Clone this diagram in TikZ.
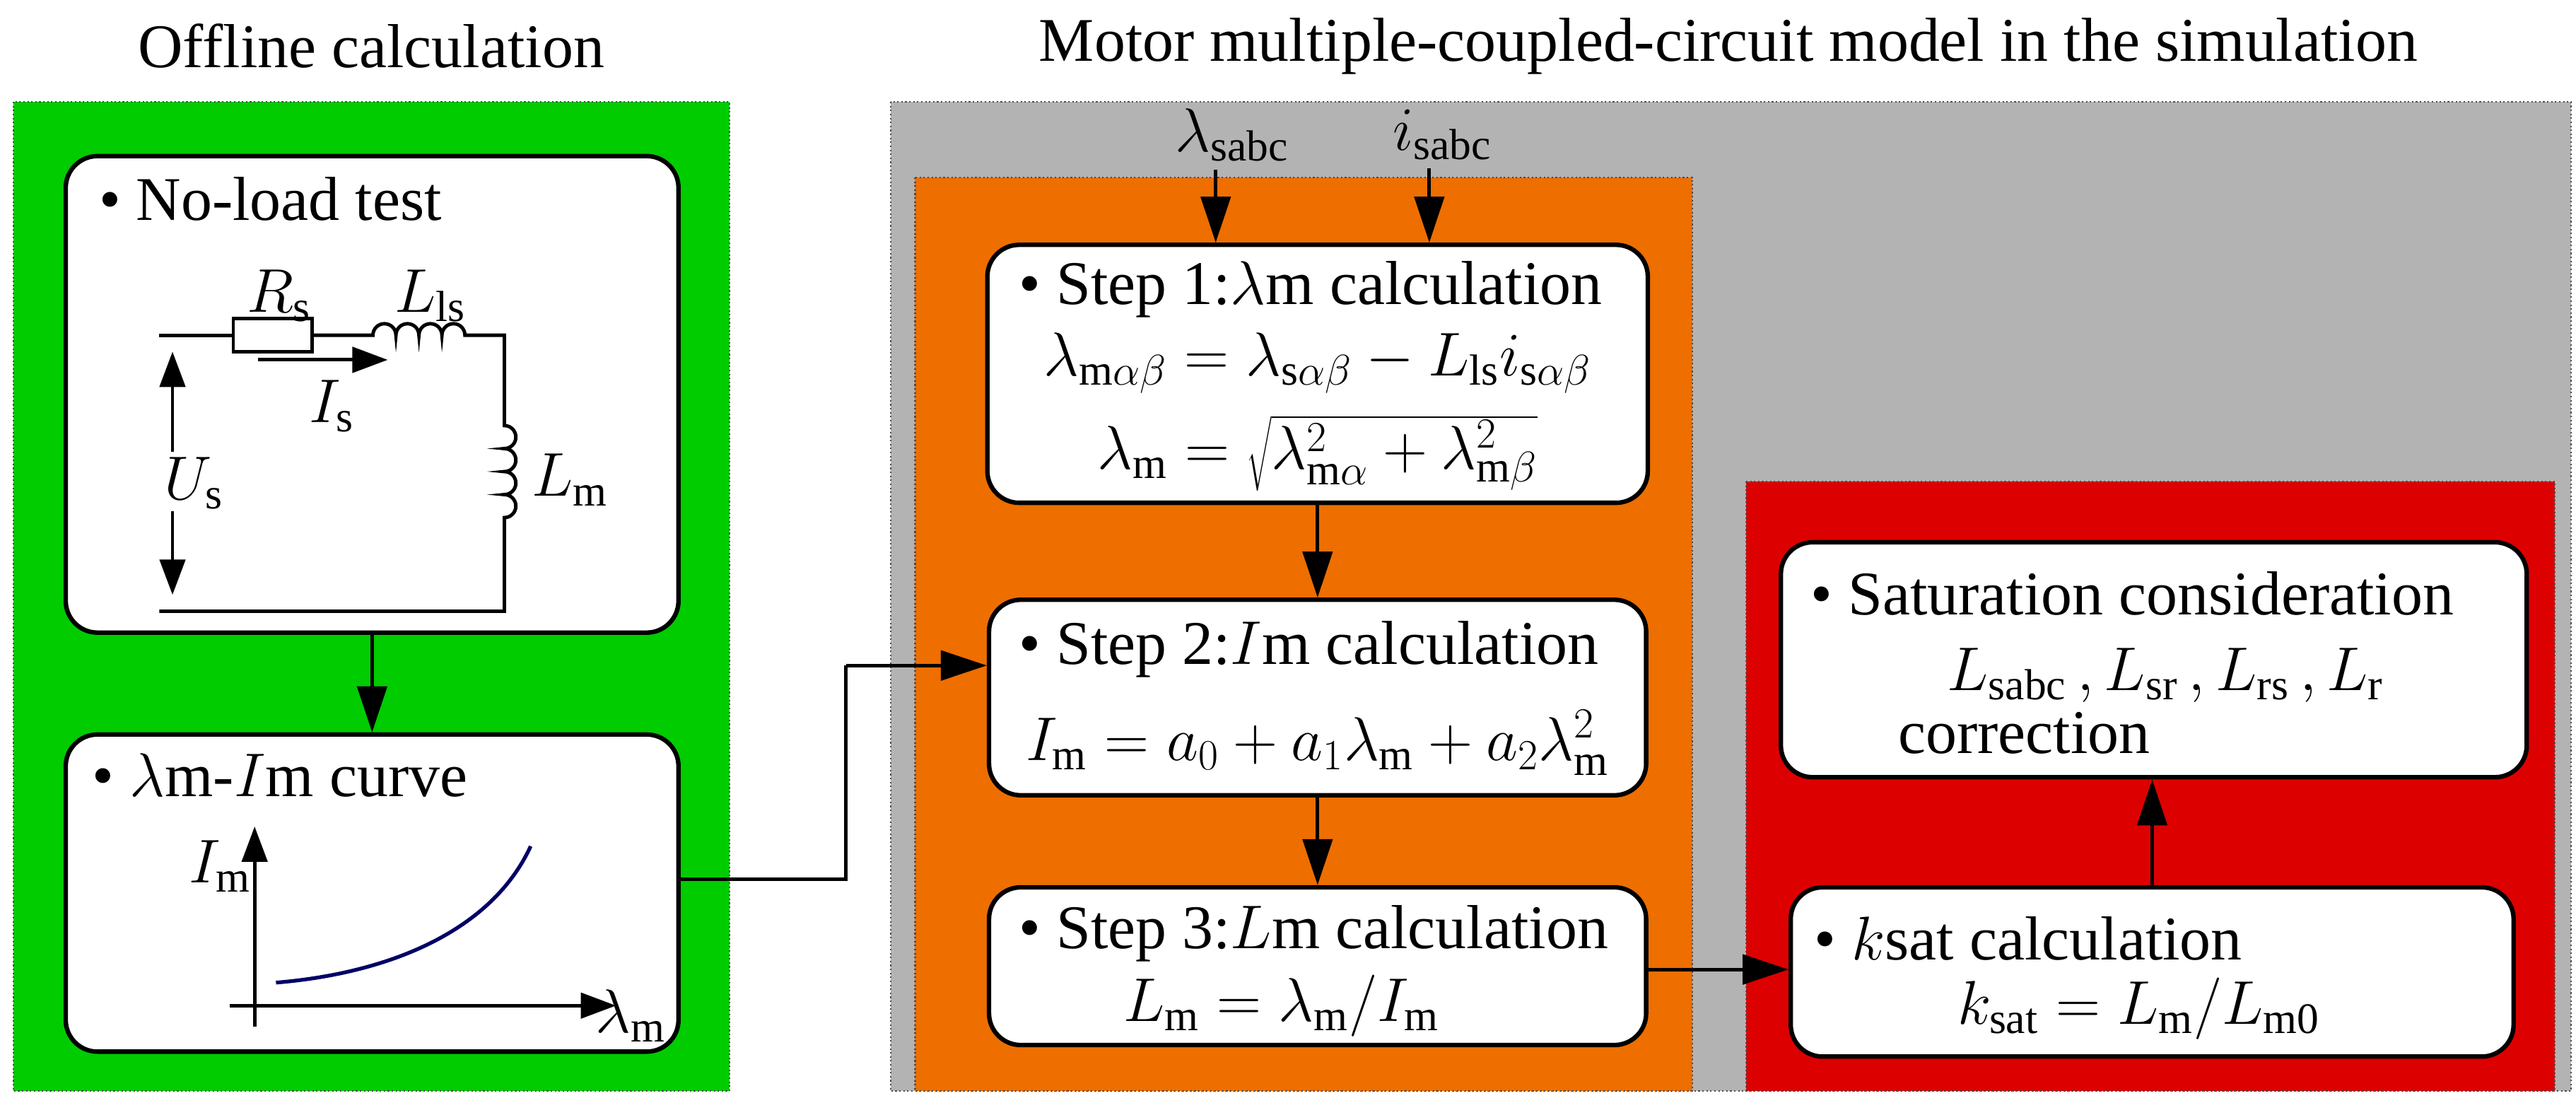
\documentclass[tikz,border=0pt]{standalone}
\usepackage{fontspec}
\setmainfont{Liberation Serif}
\usetikzlibrary{arrows.meta}
\definecolor{gr}{HTML}{00CC00}
\definecolor{gy}{HTML}{B3B3B3}
\definecolor{orn}{HTML}{EE6E00}
\definecolor{rd}{HTML}{DD0000}
\definecolor{nv}{HTML}{000066}
\begin{document}
\begin{tikzpicture}[x=0.02324cm,y=-0.02324cm,
  font=\fontsize{25}{29}\selectfont,
  bg/.style={draw=black!70,densely dotted,line width=0.6pt},
  box/.style={draw,fill=white,line width=1.8pt,rounded corners=0.45cm,inner sep=0pt},
  arr/.style={line width=1.4pt,-{Triangle[length=0.65cm,width=0.42cm]}},
  wire/.style={line width=1.4pt},
  txt/.style={anchor=west,inner sep=0pt}]
\useasboundingbox (0,0) rectangle (1568,671);
% backgrounds
\fill[white] (0,0) rectangle (1568,671);
\draw[bg,fill=gr] (8,62) rectangle (444,664);
\draw[bg,fill=gy] (542,62) rectangle (1565,664);
\draw[bg,fill=orn] (557,108) rectangle (1030,664);
\draw[bg,fill=rd] (1063,293) rectangle (1555,664);
% titles
\node (t1) at (226,28) {Offline calculation};
\node (t2) at (1052,28) {Motor multiple-coupled-circuit model in the simulation};
% boxes
\node[box,minimum width={373*0.02324cm},minimum height={290*0.02324cm}] (nl) at (226.5,240) {};
\node[box,minimum width={373*0.02324cm},minimum height={193*0.02324cm}] (cv) at (226.5,543.5) {};
\node[box,minimum width={402*0.02324cm},minimum height={157*0.02324cm}] (s1) at (802,227.5) {};
\node[box,minimum width={400*0.02324cm},minimum height={119*0.02324cm}] (s2) at (802,424.5) {};
\node[box,minimum width={400*0.02324cm},minimum height={96*0.02324cm}] (s3) at (802,588) {};
\node[box,minimum width={454*0.02324cm},minimum height={143*0.02324cm}] (sat) at (1311,401.5) {};
\node[box,minimum width={440*0.02324cm},minimum height={103*0.02324cm}] (ks) at (1310,591.5) {};
% texts
\node[txt] (nlt) at (60,121) {\textbullet\ No-load test};
\node[txt] (cvt) at (56,472) {\textbullet\ $\lambda$m-$I$m curve};
\node[txt] (s1t) at (620,176) {\textbullet\ Step 1:$\lambda$m calculation};
\node (s1a) at (802,221) {$\lambda_{\mathrm{m}\alpha\beta}=\lambda_{\mathrm{s}\alpha\beta}-L_{\mathrm{ls}}i_{\mathrm{s}\alpha\beta}$};
\node (s1b) at (802,276) {$\lambda_{\mathrm{m}}=\sqrt{\lambda_{\mathrm{m}\alpha}^2+\lambda_{\mathrm{m}\beta}^2}$};
\node[txt] (s2t) at (620,395) {\textbullet\ Step 2:$I$m calculation};
\node (s2a) at (802,452) {$I_{\mathrm{m}}=a_0+a_1\lambda_{\mathrm{m}}+a_2\lambda_{\mathrm{m}}^2$};
\node[txt] (s3t) at (620,568) {\textbullet\ Step 3:$L$m calculation};
\node (s3a) at (780,612) {$L_{\mathrm{m}}=\lambda_{\mathrm{m}}/I_{\mathrm{m}}$};
\node[txt] (satt) at (1102,361) {\textbullet\ Saturation consideration};
\node[txt] (sata) at (1185,411) {$L_{\mathrm{sabc}}\,,L_{\mathrm{sr}}\,,L_{\mathrm{rs}}\,,L_{\mathrm{r}}$};
\node (satb) at (1232,446) {correction};
\node[txt] (kst) at (1104,571) {\textbullet\ $k$sat calculation};
\node (ksa) at (1302,614) {$k_{\mathrm{sat}}=L_{\mathrm{m}}/L_{\mathrm{m0}}$};
% input labels
\node (ls) at (750,82) {$\lambda_{\mathrm{sabc}}$};
\node (is) at (878,82) {$i_{\mathrm{sabc}}$};
\coordinate (lsa) at (740,103);
\coordinate (isa) at (870,103);
% circuit
\draw[wire] (97,204) -- (142,204);
\draw[wire,fill=white] (142,194) rectangle (190,214);
\draw[wire] (190,204) -- (227,204)
  arc[start angle=180,end angle=360,radius=7]
  arc[start angle=180,end angle=360,radius=7]
  arc[start angle=180,end angle=360,radius=7]
  arc[start angle=180,end angle=360,radius=7]
  -- (307,204) -- (307,259)
  arc[start angle=-90,end angle=90,radius=7]
  arc[start angle=-90,end angle=90,radius=7]
  arc[start angle=-90,end angle=90,radius=7]
  arc[start angle=-90,end angle=90,radius=7]
  -- (307,372) -- (97,372);
\coordinate (ua1) at (105,275); \coordinate (ua2) at (105,214);
\coordinate (ub1) at (105,311); \coordinate (ub2) at (105,362);
\coordinate (ia1) at (157,219); \coordinate (ia2) at (236,219);
\draw[wire,-{Triangle[length=0.5cm,width=0.36cm]}] (ua1) -- (ua2);
\draw[wire,-{Triangle[length=0.5cm,width=0.36cm]}] (ub1) -- (ub2);
\draw[wire,-{Triangle[length=0.5cm,width=0.36cm]}] (ia1) -- (ia2);
\node (rs) at (170,180) {$R_{\mathrm{s}}$};
\node (lls) at (262,180) {$L_{\mathrm{ls}}$};
\node (isl) at (202,247) {$I_{\mathrm{s}}$};
\node (usl) at (118,294) {$U_{\mathrm{s}}$};
\node (lml) at (347,292) {$L_{\mathrm{m}}$};
% curve plot
\coordinate (axy) at (155,503);
\coordinate (axx) at (375,612);
\draw[wire,-{Triangle[length=0.5cm,width=0.36cm]}] (155,625) -- (axy);
\draw[wire,-{Triangle[length=0.5cm,width=0.36cm]}] (140,612) -- (axx);
\draw[nv,line width=1.5pt] (168,598) .. controls (240,592) and (300,565) .. (323,515);
\node (iml) at (134,527) {$I_{\mathrm{m}}$};
\node (lmb) at (384,618) {$\lambda_{\mathrm{m}}$};
% connectors
\draw[arr] (ls.south -| lsa) -- (lsa |- s1.north);
\draw[arr] (is.south -| isa) -- (isa |- s1.north);
\draw[arr] (nl.south) -- (cv.north);
\draw[arr] (s1.south) -- (s2.north);
\draw[arr] (s2.south) -- (s3.north);
\coordinate (j) at (515,405);
\draw[wire] (cv.east |- 0,535) -| (j);
\draw[arr] (j) -- (s2.west |- j);
\draw[arr] (s3.east |- 0,590) -- (ks.west |- 0,590);
\draw[arr] (ks.north -| 1310,0) -- (sat.south -| 1310,0);
\end{tikzpicture}
\end{document}
